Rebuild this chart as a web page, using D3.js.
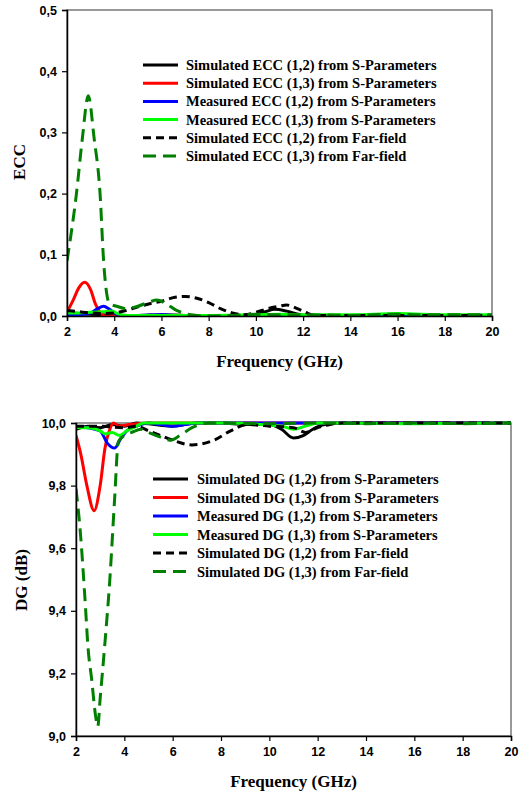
<!DOCTYPE html>
<html><head><meta charset="utf-8">
<script src="https://cdn.jsdelivr.net/npm/d3@7/dist/d3.min.js"></script>
<style>
body{margin:0;background:#fff;}
svg{display:block;}
.tick text{font-family:"Liberation Sans",Arial,sans-serif;font-weight:bold;font-size:12.5px;fill:#000;}
.lg{font-family:"Liberation Serif","Times New Roman",serif;font-weight:bold;font-size:14.5px;fill:#000;}
.ttl{font-family:"Liberation Serif","Times New Roman",serif;font-weight:bold;font-size:17px;fill:#000;}
</style></head>
<body>
<svg id="c" width="522" height="797"></svg>
<script>
// ---------- DATA ----------
const xTicks = [2,4,6,8,10,12,14,16,18,20];
const eccTicks = [0,0.1,0.2,0.3,0.4,0.5];
const dgTicks = [9.0,9.2,9.4,9.6,9.8,10.0];

const eccLegend = ["Simulated ECC (1,2) from S-Parameters","Simulated ECC (1,3) from S-Parameters","Measured ECC (1,2) from S-Parameters","Measured ECC (1,3) from S-Parameters","Simulated ECC (1,2) from Far-field","Simulated ECC (1,3) from Far-field"];
const dgLegend = ["Simulated DG (1,2) from S-Parameters","Simulated DG (1,3) from S-Parameters","Measured DG (1,2) from S-Parameters","Measured DG (1,3) from S-Parameters","Simulated DG (1,2) from Far-field","Simulated DG (1,3) from Far-field"];

// ECC series
const eccSim12SX = [2,2.5,3,3.5,4,5,6,7,8,9,10,10.4,10.8,11.3,11.8,12.3,14,16,18,20];
const eccSim12SY = [0.006,0.004,0.003,0.002,0.001,0.001,0.002,0.001,0.0005,0.0005,0.002,0.007,0.011,0.008,0.003,0.0005,0.0005,0.001,0.0005,0.0005];
const eccSim13SX = [2,2.25,2.5,2.75,3,3.2,3.4,3.6,3.9,4.5,6,8,10,12,14,16,18,20];
const eccSim13SY = [0.006,0.025,0.046,0.055,0.043,0.02,0.006,0.0,0.001,0.0005,0.0005,0.0005,0.0005,0.0005,0.0005,0.0005,0.0005,0.0005];
const eccMeas12X = [2,2.5,3,3.3,3.55,3.8,4.1,4.5,5,6,6.5,8,10,12,14,16,18,20];
const eccMeas12Y = [0.003,0.002,0.005,0.012,0.016,0.011,0.003,0.001,0.001,0.002,0.001,0.0005,0.0005,0.0005,0.0005,0.0005,0.0005,0.0005];
const eccMeas13X = [2,2.5,3,3.5,3.9,4.2,4.6,5,6,8,10,11,12,14,16,18,20];
const eccMeas13Y = [0.005,0.005,0.006,0.007,0.008,0.003,0.001,0.001,0.001,0.001,0.002,0.003,0.002,0.002,0.004,0.002,0.002];
const eccSim12FX = [2,2.5,3,3.5,4,4.5,5,5.5,6,6.5,7,7.5,8,8.5,9,9.5,10,10.5,11,11.3,11.7,12.1,12.5,13,14,15,16,17,18,19,20];
const eccSim12FY = [0.009,0.007,0.005,0.004,0.005,0.009,0.015,0.02,0.024,0.03,0.032,0.029,0.022,0.012,0.005,0.002,0.006,0.012,0.016,0.018,0.013,0.006,0.001,0.001,0.001,0.001,0.001,0.001,0.001,0.001,0.001];
const eccSim13FX = [2,2.4,2.65,2.9,3.15,3.4,3.55,3.8,4.1,4.5,5,5.5,5.8,6.2,6.6,7,7.5,8,9,10,11,12,14,16,17,18,20];
const eccSim13FY = [0.09,0.2,0.29,0.36,0.29,0.2,0.09,0.02,0.016,0.012,0.016,0.023,0.026,0.02,0.01,0.004,0.001,0.0,0.001,0.003,0.002,0.002,0.001,0.003,0.002,0.002,0.002];

// DG series
const dgSim12SX = [2,2.5,3,3.5,4,4.5,6,7,8,9,10,10.5,11,11.4,11.8,12.3,13,16,20];
const dgSim12SY = [9.98,9.99,9.985,9.995,9.99,10.0,9.99,10.0,10.0,9.995,9.995,9.98,9.952,9.96,9.98,9.995,10.0,10.0,10.0];
const dgSim13SX = [2,2.2,2.45,2.75,3.0,3.2,3.4,3.55,3.8,4.2,5,8,12,16,20];
const dgSim13SY = [9.96,9.9,9.8,9.72,9.8,9.92,9.98,10.0,9.99,9.995,10.0,10.0,10.0,10.0,10.0];
const dgMeas12X = [2,2.5,3,3.3,3.6,3.85,4.1,4.5,5,5.5,6,6.5,7,10,14,20];
const dgMeas12Y = [9.99,9.985,9.975,9.935,9.92,9.95,9.975,9.99,10.0,9.995,9.99,9.995,10.0,10.0,10.0,10.0];
const dgMeas13X = [2,2.5,3,3.2,3.5,3.8,4.1,4.5,4.8,8,10.5,11,11.5,12,16,20];
const dgMeas13Y = [9.985,9.985,9.975,9.965,9.97,9.96,9.975,9.99,10.0,10.0,9.99,9.98,9.99,10.0,9.998,10.0];
const dgSim12FX = [2,3,4,4.5,5,5.5,6,6.8,7.7,8.4,9.1,10,11,11.5,12,12.5,13,16,20];
const dgSim12FY = [9.99,9.99,9.985,9.99,9.975,9.96,9.945,9.93,9.945,9.975,9.995,9.99,9.985,9.97,9.985,9.995,10.0,10.0,10.0];
const dgSim13FX = [2,2.17,2.37,2.5,2.65,2.8,2.9,3.0,3.2,3.4,3.6,3.75,4.0,4.3,4.7,5.0,5.5,5.9,6.3,6.8,7.5,8,10,12,14,16,18,20];
const dgSim13FY = [9.79,9.66,9.44,9.28,9.18,9.07,9.03,9.12,9.3,9.5,9.76,9.94,9.96,9.97,9.98,9.97,9.955,9.945,9.96,9.985,10.0,10.0,9.998,10.0,9.998,10.0,9.998,10.0];

const eccSeries = [[eccSim12SX,eccSim12SY],[eccSim13SX,eccSim13SY],[eccMeas12X,eccMeas12Y],[eccMeas13X,eccMeas13Y],[eccSim12FX,eccSim12FY],[eccSim13FX,eccSim13FY]];
const dgSeries = [[dgSim12SX,dgSim12SY],[dgSim13SX,dgSim13SY],[dgMeas12X,dgMeas12Y],[dgMeas13X,dgMeas13Y],[dgSim12FX,dgSim12FY],[dgSim13FX,dgSim13FY]];

const colors = ["#000000","#ff0000","#0000ff","#00ff00","#000000","#007f00"];
const dashes = [null,null,null,null,"8,5","13,7"];

// ---------- DRAW ----------
const svg = d3.select("#c");
const loc = d3.formatLocale({decimal:",",thousands:".",grouping:[3],currency:["",""]});
const fmt1 = loc.format(".1f");

function panel(o){
  const x = d3.scaleLinear().domain([2,20]).range([o.l,o.r]);
  const y = d3.scaleLinear().domain(o.dom).range([o.b,o.t]);
  const g = svg.append("g");
  g.append("rect").attr("x",o.l).attr("y",o.t).attr("width",o.r-o.l).attr("height",o.b-o.t)
    .attr("fill","none").attr("stroke","#777").attr("stroke-width",1.5);
  const cid = "clip"+o.id;
  svg.append("clipPath").attr("id",cid).append("rect")
    .attr("x",o.l).attr("y",o.t-3).attr("width",o.r-o.l+2).attr("height",o.b-o.t+4);
  const line = d3.line().x(d=>x(d[0])).y(d=>y(d[1])).curve(d3.curveMonotoneX);
  o.series.forEach((s,i)=>{
    const pts = s[0].map((v,k)=>[v,s[1][k]]);
    g.append("path").attr("d",line(pts)).attr("fill","none")
      .attr("stroke",colors[i]).attr("stroke-width",3)
      .attr("stroke-dasharray",dashes[i]).attr("clip-path","url(#"+cid+")");
  });
  const xa = g.append("g").attr("transform",`translate(0,${o.b})`)
    .call(d3.axisBottom(x).tickValues(xTicks).tickSize(5).tickPadding(6).tickFormat(d3.format("d")));
  const ya = g.append("g").attr("transform",`translate(${o.l},0)`)
    .call(d3.axisLeft(y).tickValues(o.ticks).tickSize(5).tickPadding(5).tickFormat(fmt1));
  [xa,ya].forEach(a=>{a.select(".domain").attr("stroke","#000").attr("stroke-width",1.5);
    a.selectAll(".tick line").attr("stroke","#000").attr("stroke-width",1.2);});
  g.append("text").attr("class","ttl").attr("x",(o.l+o.r)/2).attr("y",o.xtY)
    .attr("text-anchor","middle").text("Frequency (GHz)");
  g.append("text").attr("class","ttl").attr("transform",`translate(${o.ytX},${o.ytY}) rotate(-90)`)
    .attr("text-anchor","middle").text(o.ytitle);
  o.legend.forEach((t,i)=>{
    const yy = o.lgY + i*o.lgDy;
    g.append("line").attr("x1",o.lgX1).attr("x2",o.lgX2).attr("y1",yy).attr("y2",yy)
      .attr("stroke",colors[i]).attr("stroke-width",3).attr("stroke-dasharray",dashes[i]);
    g.append("text").attr("class","lg").attr("x",o.lgT).attr("y",yy+5).text(t);
  });
}

panel({id:1,l:67,r:492,t:10,b:316,dom:[0,0.5],ticks:eccTicks,series:eccSeries,
  xtY:367,ytX:25,ytY:162,ytitle:"ECC",legend:eccLegend,lgX1:143,lgX2:178,lgT:186,lgY:65,lgDy:18.2});
panel({id:2,l:76,r:511,t:423,b:736,dom:[9,10],ticks:dgTicks,series:dgSeries,
  xtY:787,ytX:27,ytY:580,ytitle:"DG (dB)",legend:dgLegend,lgX1:153,lgX2:188,lgT:197,lgY:479,lgDy:18.5});
</script>
</body></html>
